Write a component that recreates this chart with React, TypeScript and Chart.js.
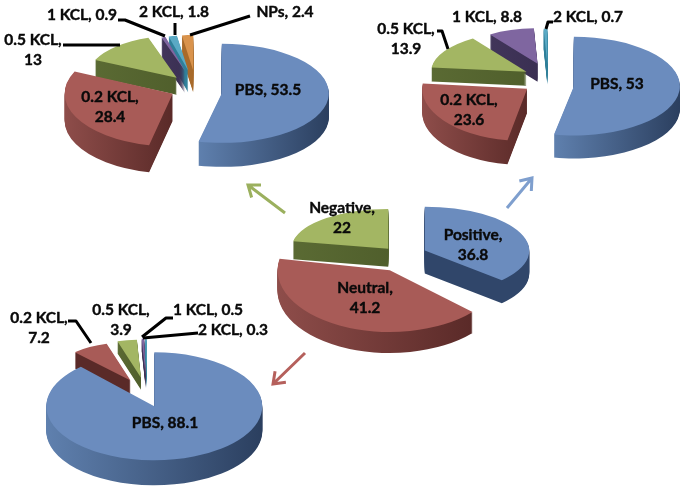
import React, { useEffect, useRef } from "react";
import { Chart, registerables } from "chart.js";

Chart.register(...registerables);

// ---------- data ----------
const topLeftCategories = ["PBS", "0.2 KCL", "0.5 KCL", "1 KCL", "2 KCL", "NPs"];
const topLeftValues = [53.5, 28.4, 13, 0.9, 1.8, 2.4];
const topRightCategories = ["PBS", "0.2 KCL", "0.5 KCL", "1 KCL", "2 KCL"];
const topRightValues = [53, 23.6, 13.9, 8.8, 0.7];
const centerCategories = ["Positive", "Neutral", "Negative"];
const centerValues = [36.8, 41.2, 22];
const bottomLeftCategories = ["PBS", "0.2 KCL", "0.5 KCL", "1 KCL", "2 KCL"];
const bottomLeftValues = [88.1, 7.2, 3.9, 0.5, 0.3];

// ---------- styles ----------
const BLUE = "#6b8cbe";
const RED = "#a85b57";
const GREEN = "#a3b663";
const PURPLE = "#7f66a0";
const TEAL = "#5aa9c4";
const ORANGE = "#d9934c";
const S_BLUE = ["#5f80ae", "#2b3f5f"];
const S_RED = ["#8e4d4a", "#5a2a28"];
const S_GREEN = ["#5a6a33", "#505f2c"];
const S_PURPLE = ["#41355a", "#3a2f52"];
const S_TEAL = ["#2f7f99", "#2f7f99"];
const S_ORANGE = ["#a86a2a", "#a86a2a"];
const FONT = 'bold 15.5px Lato, "Open Sans", sans-serif';

type Label = { text: string[]; x: number; y: number };
type Spec = {
  categories: string[];
  values: number[];
  colors: string[];
  sides: string[][];
  cx: number;
  cy: number;
  radius: number;
  tilt: number[];
  lift: number[];
  explode: number[];
  radiusScale: number[];
  depth: number[];
  labels: Label[];
  leaders: number[][][];
  arrows?: { color: string; from: number[]; to: number[] }[];
};

function tag(cats: string[], vals: number[], i: number, wrap: boolean): string[] {
  return wrap ? [`${cats[i]},`, `${vals[i]}`] : [`${cats[i]}, ${vals[i]}`];
}

const specs: Spec[] = [
  {
    categories: topLeftCategories,
    values: topLeftValues,
    colors: [BLUE, RED, GREEN, PURPLE, TEAL, ORANGE],
    sides: [S_BLUE, S_RED, S_GREEN, S_PURPLE, S_TEAL, S_ORANGE],
    cx: 196, cy: 88, radius: 107,
    tilt: [0.463, 0.49, 0.47, 0.47, 0.47, 0.47],
    lift: [4, 0, 0, 0, 0, 0],
    explode: [26, 26, 29, 38, 38, 38],
    radiusScale: [1, 1.01, 0.84, 0.7, 0.7, 0.7],
    depth: [24, 27, 17, 22, 22, 22],
    labels: [
      { text: tag(topLeftCategories, topLeftValues, 0, false), x: 268, y: 90 },
      { text: tag(topLeftCategories, topLeftValues, 1, true), x: 110, y: 97 },
      { text: tag(topLeftCategories, topLeftValues, 2, true), x: 33, y: 40 },
      { text: tag(topLeftCategories, topLeftValues, 3, false), x: 82, y: 15 },
      { text: tag(topLeftCategories, topLeftValues, 4, false), x: 174, y: 12 },
      { text: tag(topLeftCategories, topLeftValues, 5, false), x: 285, y: 12 },
    ],
    leaders: [
      [[118, 20], [125, 20], [165, 36]],
      [[175, 23], [175, 35]],
      [[250, 16], [190, 35]],
      [[63, 45], [120, 45]],
    ],
  },
  {
    categories: topRightCategories,
    values: topRightValues,
    colors: [BLUE, RED, GREEN, PURPLE, TEAL],
    sides: [S_BLUE, S_RED, S_GREEN, S_PURPLE, S_TEAL],
    cx: 548, cy: 77, radius: 106,
    tilt: [0.465, 0.5, 0.42, 0.42, 0.42],
    lift: [8, 4, 0, 0, 0],
    explode: [26, 26, 25, 33, 30],
    radiusScale: [1, 0.99, 0.9, 0.8, 0.8],
    depth: [23, 24, 14, 18, 20],
    labels: [
      { text: tag(topRightCategories, topRightValues, 0, false), x: 617, y: 84 },
      { text: tag(topRightCategories, topRightValues, 1, true), x: 469, y: 100 },
      { text: tag(topRightCategories, topRightValues, 2, true), x: 406, y: 29 },
      { text: tag(topRightCategories, topRightValues, 3, false), x: 487, y: 17 },
      { text: tag(topRightCategories, topRightValues, 4, false), x: 588, y: 17 },
    ],
    leaders: [
      [[437, 31], [442, 31], [448, 49]],
      [[553, 22], [548, 22], [546, 29]],
    ],
  },
  {
    categories: centerCategories,
    values: centerValues,
    colors: [BLUE, RED, GREEN],
    sides: [["#30466a", "#30466a"], S_RED, S_GREEN],
    cx: 401, cy: 255, radius: 110,
    tilt: [0.42, 0.55, 0.41],
    lift: [0, 3, 0],
    explode: [26, 25, 20],
    radiusScale: [0.95, 1.02, 0.88],
    depth: [23, 21, 18],
    labels: [
      { text: tag(centerCategories, centerValues, 0, true), x: 473, y: 235 },
      { text: tag(centerCategories, centerValues, 1, true), x: 365, y: 288 },
      { text: tag(centerCategories, centerValues, 2, true), x: 342, y: 208 },
    ],
    leaders: [],
    arrows: [
      { color: "#9bb05e", from: [285, 213], to: [248, 185] },
      { color: "#7f9fce", from: [507, 208], to: [532, 178] },
      { color: "#b5605c", from: [305, 353], to: [273, 384] },
    ],
  },
  {
    categories: bottomLeftCategories,
    values: bottomLeftValues,
    colors: [BLUE, RED, GREEN, PURPLE, TEAL],
    sides: [S_BLUE, ["#5a2a28", "#5a2a28"], S_GREEN, S_PURPLE, S_TEAL],
    cx: 147, cy: 394, radius: 108,
    tilt: [0.5, 0.47, 0.47, 0.47, 0.47],
    lift: [3, 0, 0, 0, 0],
    explode: [20, 33, 35, 38, 38],
    radiusScale: [1, 0.76, 0.75, 0.74, 0.74],
    depth: [25, 16, 12, 12, 12],
    labels: [
      { text: tag(bottomLeftCategories, bottomLeftValues, 0, false), x: 165, y: 423 },
      { text: tag(bottomLeftCategories, bottomLeftValues, 1, true), x: 39, y: 318 },
      { text: tag(bottomLeftCategories, bottomLeftValues, 2, true), x: 121, y: 310 },
      { text: tag(bottomLeftCategories, bottomLeftValues, 3, false), x: 208, y: 310 },
      { text: tag(bottomLeftCategories, bottomLeftValues, 4, false), x: 233, y: 330 },
    ],
    leaders: [
      [[68, 321], [76, 321], [91, 343]],
      [[173, 318], [166, 318], [142, 337]],
      [[198, 333], [143, 338]],
    ],
  },
];

function makePlugin(spec: Spec) {
  return {
    id: "pie3d",
    beforeDatasetsDraw(chart: any) {
      const ctx = chart.ctx;
      const arcs = chart.getDatasetMeta(0).data as any[];
      const { cx, cy } = spec;
      arcs.forEach((el, i) => {
        el.outerRadius = spec.radius * spec.radiusScale[i];
      });
      const withTilt = (el: any, i: number, dy: number) => {
        const mid = (el.startAngle + el.endAngle) / 2;
        ctx.save();
        ctx.translate(cx, cy + spec.lift[i] + dy);
        ctx.scale(1, spec.tilt[i]);
        ctx.translate(-cx, -cy);
        ctx.translate(Math.cos(mid) * spec.explode[i], Math.sin(mid) * spec.explode[i]);
        el.draw(ctx);
        ctx.restore();
      };
      // extruded walls, from the back of the pie to the front
      const order = arcs
        .map((el, i) => ({ el, i, mid: Math.sin((el.startAngle + el.endAngle) / 2) }))
        .sort((a, b) => a.mid - b.mid);
      order.forEach(({ el, i }) => {
        const r = el.outerRadius;
        let min = el.x;
        let max = el.x;
        for (let t = 0; t <= 24; t++) {
          const a = el.startAngle + ((el.endAngle - el.startAngle) * t) / 24;
          min = Math.min(min, el.x + Math.cos(a) * r);
          max = Math.max(max, el.x + Math.cos(a) * r);
        }
        const grad = ctx.createLinearGradient(min, 0, max, 0);
        grad.addColorStop(0, spec.sides[i][0]);
        grad.addColorStop(1, spec.sides[i][1]);
        const saved = el.options;
        el.options = Object.assign(Object.create(saved), { backgroundColor: grad, borderWidth: 0 });
        for (let d = spec.depth[i]; d >= 1; d--) withTilt(el, i, d);
        el.options = saved;
      });
      // top faces
      arcs.forEach((el, i) => withTilt(el, i, 0));
      return false;
    },
    afterDraw(chart: any) {
      const ctx = chart.ctx;
      ctx.save();
      ctx.strokeStyle = "#000";
      ctx.lineWidth = 3;
      ctx.lineJoin = "round";
      spec.leaders.forEach((pts) => {
        ctx.beginPath();
        pts.forEach((p, k) => (k ? ctx.lineTo(p[0], p[1]) : ctx.moveTo(p[0], p[1])));
        ctx.stroke();
      });
      (spec.arrows || []).forEach(({ color, from, to }) => {
        const ang = Math.atan2(to[1] - from[1], to[0] - from[0]);
        ctx.strokeStyle = color;
        ctx.lineWidth = 3;
        ctx.lineJoin = "miter";
        ctx.beginPath();
        ctx.moveTo(from[0], from[1]);
        ctx.lineTo(to[0], to[1]);
        ctx.moveTo(to[0] + Math.cos(ang + 2.5) * 13, to[1] + Math.sin(ang + 2.5) * 13);
        ctx.lineTo(to[0], to[1]);
        ctx.lineTo(to[0] + Math.cos(ang - 2.5) * 13, to[1] + Math.sin(ang - 2.5) * 13);
        ctx.stroke();
      });
      ctx.fillStyle = "#0a0a0a";
      ctx.strokeStyle = "#0a0a0a";
      ctx.lineWidth = 0.4;
      ctx.font = FONT;
      ctx.textAlign = "center";
      ctx.textBaseline = "middle";
      spec.labels.forEach(({ text, x, y }) => {
        text.forEach((line, k) => {
          ctx.fillText(line, x, y + k * 20);
          ctx.strokeText(line, x, y + k * 20);
        });
      });
      ctx.restore();
    },
  };
}

const W = 685;
const H = 491;

function Pie({ spec }: { spec: Spec }) {
  const ref = useRef<HTMLCanvasElement>(null);
  useEffect(() => {
    const padX = 2 * spec.cx - W;
    const padY = 2 * spec.cy - H;
    const chart = new Chart(ref.current as HTMLCanvasElement, {
      type: "pie",
      data: {
        labels: spec.categories,
        datasets: [
          {
            data: spec.values,
            backgroundColor: spec.colors,
            borderWidth: 0,
          },
        ],
      },
      options: {
        responsive: false,
        animation: false,
        events: [],
        rotation: 0,
        layout: {
          padding: {
            left: Math.max(padX, 0),
            right: Math.max(-padX, 0),
            top: Math.max(padY, 0),
            bottom: Math.max(-padY, 0),
          },
        },
        plugins: { legend: { display: false }, tooltip: { enabled: false } },
      },
      plugins: [makePlugin(spec)],
    } as any);
    return () => chart.destroy();
  }, [spec]);
  return (
    <canvas
      ref={ref}
      width={W}
      height={H}
      style={{ position: "absolute", left: 0, top: 0, width: W, height: H, display: "block" }}
    />
  );
}

export default function App() {
  return (
    <div style={{ position: "absolute", left: 0, top: 0, width: W, height: H, background: "#fff", overflow: "hidden" }}>
      {specs.map((s, i) => (
        <Pie key={i} spec={s} />
      ))}
    </div>
  );
}
